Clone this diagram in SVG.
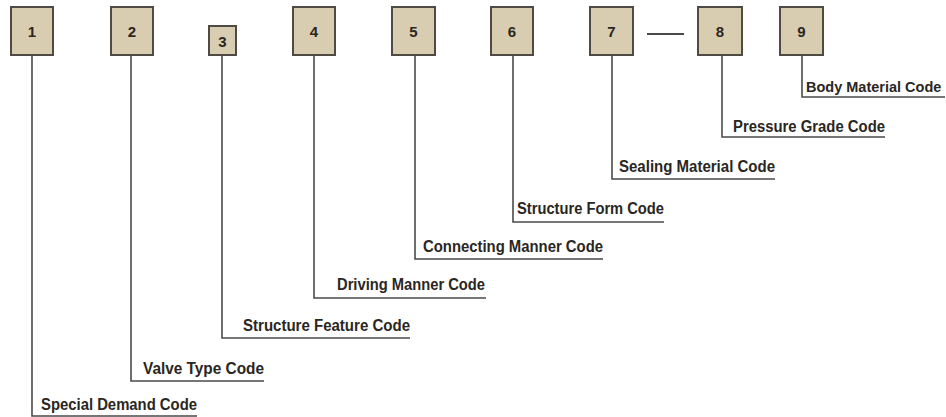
<svg xmlns="http://www.w3.org/2000/svg" width="946" height="417" viewBox="0 0 946 417">
<style>
.box{fill:#d8cdb0;stroke:#4f4a44;stroke-width:2}
.num{font-family:"Liberation Sans",Arial,sans-serif;font-weight:bold;font-size:15px;fill:#2a2622;text-anchor:middle}
.lbl{font-family:"Liberation Sans",Arial,sans-serif;font-weight:bold;font-size:16px;fill:#2a2622}
.ln{fill:none;stroke:#4a4a4a;stroke-width:1.6}
</style>
<rect width="946" height="417" fill="#ffffff"/>
<g id="connectors">
<path class="ln" d="M32,55 V416 H197"/>
<path class="ln" d="M131,55 V381 H264"/>
<path class="ln" d="M222,55 V338 H410"/>
<path class="ln" d="M314,55 V298 H486"/>
<path class="ln" d="M415,55 V259 H603"/>
<path class="ln" d="M513,55 V222 H664"/>
<path class="ln" d="M612,55 V179 H775"/>
<path class="ln" d="M722,55 V137 H885"/>
<path class="ln" d="M802,55 V97 H945"/>
<path class="ln" d="M647,34 H684" style="stroke-width:2"/>
</g>
<g id="node1"><rect class="box" x="11" y="7" width="42" height="48"/><text class="num" x="32" y="37">1</text></g>
<g id="node2"><rect class="box" x="111" y="7" width="42" height="48"/><text class="num" x="132" y="37">2</text></g>
<g id="node3"><rect class="box" x="209" y="26" width="27" height="29"/><text class="num" x="222.5" y="47">3</text></g>
<g id="node4"><rect class="box" x="293" y="7" width="42" height="48"/><text class="num" x="314" y="37">4</text></g>
<g id="node5"><rect class="box" x="392" y="7" width="43" height="48"/><text class="num" x="413.5" y="37">5</text></g>
<g id="node6"><rect class="box" x="491" y="7" width="42" height="48"/><text class="num" x="512" y="37">6</text></g>
<g id="node7"><rect class="box" x="590" y="7" width="43" height="48"/><text class="num" x="611.5" y="37">7</text></g>
<g id="node8"><rect class="box" x="698" y="7" width="44" height="48"/><text class="num" x="720" y="37">8</text></g>
<g id="node9"><rect class="box" x="780" y="7" width="43" height="48"/><text class="num" x="801.5" y="37">9</text></g>
<g id="labels">
<text class="lbl" x="41" y="410" textLength="156" lengthAdjust="spacingAndGlyphs">Special Demand Code</text>
<text class="lbl" x="143" y="374" textLength="121" lengthAdjust="spacingAndGlyphs">Valve Type Code</text>
<text class="lbl" x="243" y="331" textLength="167" lengthAdjust="spacingAndGlyphs">Structure Feature Code</text>
<text class="lbl" x="337" y="290" textLength="148" lengthAdjust="spacingAndGlyphs">Driving Manner Code</text>
<text class="lbl" x="423" y="252" textLength="180" lengthAdjust="spacingAndGlyphs">Connecting Manner Code</text>
<text class="lbl" x="517" y="214" textLength="147" lengthAdjust="spacingAndGlyphs">Structure Form Code</text>
<text class="lbl" x="619" y="172" textLength="156" lengthAdjust="spacingAndGlyphs">Sealing Material Code</text>
<text class="lbl" x="733" y="132" textLength="152" lengthAdjust="spacingAndGlyphs">Pressure Grade Code</text>
<text class="lbl" x="806" y="92" style="font-size:14.5px">Body Material Code</text>
</g>
</svg>
